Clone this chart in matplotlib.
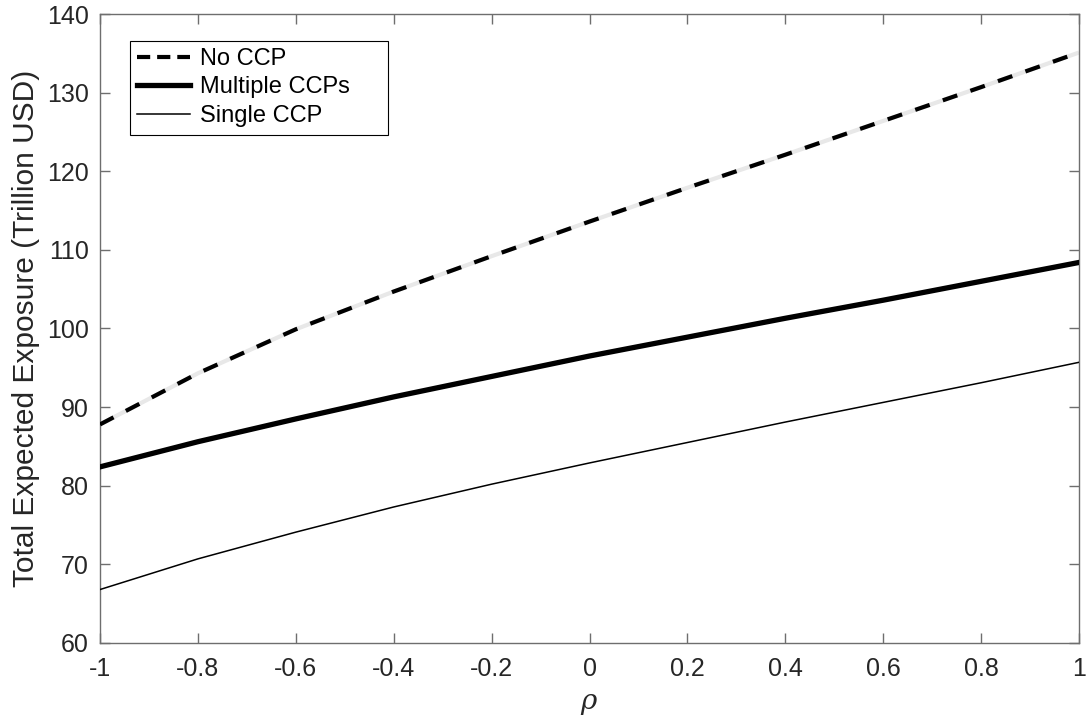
import matplotlib
matplotlib.use("Agg")
import matplotlib.pyplot as plt
from matplotlib.lines import Line2D
from matplotlib.patches import Rectangle

plt.rcParams['font.family'] = ['Liberation Sans', 'DejaVu Sans']
plt.rcParams['lines.scale_dashes'] = False
plt.rcParams['mathtext.fontset'] = 'dejavuserif'

rho = [-1.0, -0.8, -0.6, -0.4, -0.2, 0.0, 0.2, 0.4, 0.6, 0.8, 1.0]
no_ccp = [87.8, 94.3, 99.9, 104.7, 109.2, 113.6, 117.9, 122.1, 126.4, 130.7, 135.1]
multiple_ccps = [82.4, 85.6, 88.5, 91.3, 93.9, 96.5, 98.9, 101.3, 103.6, 106.0, 108.4]
single_ccp = [66.8, 70.7, 74.1, 77.3, 80.2, 82.9, 85.5, 88.1, 90.6, 93.1, 95.7]

xticks = [-1, -0.8, -0.6, -0.4, -0.2, 0, 0.2, 0.4, 0.6, 0.8, 1]
xticklabels = ['-1', '-0.8', '-0.6', '-0.4', '-0.2', '0', '0.2', '0.4', '0.6', '0.8', '1']
yticks = [60, 70, 80, 90, 100, 110, 120, 130, 140]
labels = ['No CCP', 'Multiple CCPs', 'Single CCP']

W, H = 1089, 725
AX_L, AX_R, AX_T, AX_B = 100, 1079, 14, 643
fig = plt.figure(figsize=(W/100, H/100), dpi=100)
ax = fig.add_axes([AX_L/W, 1-AX_B/H, (AX_R-AX_L)/W, (AX_B-AX_T)/H])

ax.plot(rho, no_ccp, color='#e8e8e8', lw=3.0, solid_capstyle='butt', zorder=2)
ax.plot(rho, no_ccp, color='black', lw=3.0, dashes=(11, 10), dash_capstyle='butt', zorder=3)
ax.plot(rho, multiple_ccps, color='black', lw=3.8, zorder=3)
ax.plot(rho, single_ccp, color='black', lw=1.1, zorder=3)

ax.set_xlim(-1, 1)
ax.set_ylim(60, 140)
ax.set_xticks(xticks)
ax.set_xticklabels(xticklabels)
ax.set_yticks(yticks)

axcol = '#6e6e6e'
for s in ax.spines.values():
    s.set_color(axcol)
    s.set_linewidth(1.0)
ax.tick_params(direction='in', length=7.3, width=1.0, color=axcol, labelcolor='#262626',
               labelsize=18, top=True, right=True)
ax.tick_params(axis='x', pad=10)
ax.tick_params(axis='y', pad=8)
ax.set_ylabel('Total Expected Exposure (Trillion USD)', fontsize=21.5, color='#262626', labelpad=5)
ax.set_xlabel(r'$\it{\rho}$', fontsize=20, color='#262626', labelpad=7)

# legend box (pixel layout of the reference)
LB_L, LB_R, LB_T, LB_B = 130, 388, 41, 135
def fx(px):
    return (px - AX_L) / (AX_R - AX_L)
def fy(py):
    return 1 - (py - AX_T) / (AX_B - AX_T)
ax.add_patch(Rectangle((fx(LB_L), fy(LB_B)), fx(LB_R) - fx(LB_L), fy(LB_T) - fy(LB_B),
                       transform=ax.transAxes, facecolor='white', edgecolor='black',
                       lw=0.8, zorder=5))

handles = [
    Line2D([], [], color='black', lw=3.0, dashes=(9.5, 5.0), dash_capstyle='butt'),
    Line2D([], [], color='black', lw=3.8),
    Line2D([], [], color='black', lw=1.1),
]
leg = ax.legend(handles, labels, loc='upper left', bbox_to_anchor=(fx(LB_L), fy(LB_T)), fontsize=17,
                frameon=False, handlelength=2.25, handletextpad=0.42,
                borderpad=0.3, labelspacing=0.27, borderaxespad=0)
leg.set_zorder(6)
for t in leg.get_texts():
    t.set_color('black')

fig.savefig('out.png', dpi=100)
